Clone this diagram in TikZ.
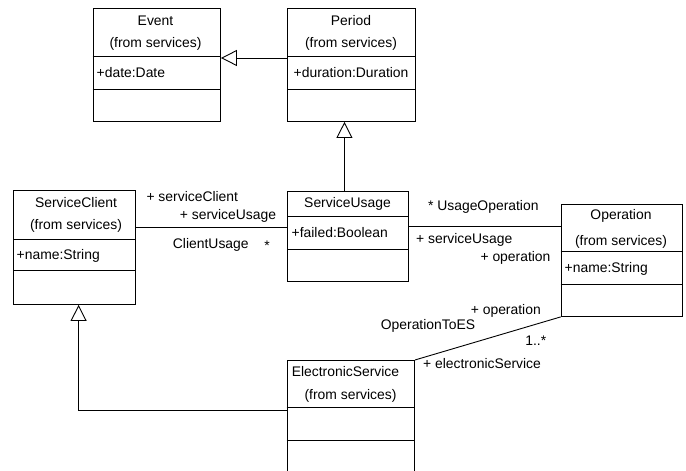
\documentclass[tikz,border=0pt]{standalone}
\usepackage{fontspec}
\setmainfont{Liberation Sans}
\usetikzlibrary{arrows.meta}
\begin{document}
\begin{tikzpicture}[x=1pt,y=-1pt,
  every node/.style={font=\fontsize{13.9}{16}\selectfont},
  cls/.style={draw, line width=0.9pt, anchor=north west, inner sep=0pt},
  lbl/.style={anchor=mid, inner sep=0pt},
  attr/.style={anchor=west, inner sep=0pt},
  ln/.style={line width=0.9pt},
  gen/.style={line width=0.9pt, -{Triangle[open,length=16pt,width=16pt,fill=white]}}]
\useasboundingbox (0,0) rectangle (686,471);
% classes
\node[cls, minimum width=127.3pt, minimum height=113pt] (ev) at (92.7,8) {};
\node[cls, minimum width=127.7pt, minimum height=113pt] (pe) at (287.3,8) {};
\node[cls, minimum width=121.7pt, minimum height=114pt] (sc) at (13.3,190) {};
\node[cls, minimum width=120.4pt, minimum height=90pt] (su) at (287.3,191) {};
\node[cls, minimum width=121pt, minimum height=112pt] (op) at (560.7,204) {};
\node[cls, minimum width=127.3pt, minimum height=130pt] (es) at (286.7,360) {};
% dividers
\draw[ln] ([yshift=-48pt]ev.north west) -- ([yshift=-48pt]ev.north east);
\draw[ln] ([yshift=-81pt]ev.north west) -- ([yshift=-81pt]ev.north east);
\draw[ln] ([yshift=-48pt]pe.north west) -- ([yshift=-48pt]pe.north east);
\draw[ln] ([yshift=-81pt]pe.north west) -- ([yshift=-81pt]pe.north east);
\draw[ln] ([yshift=-49pt]sc.north west) -- ([yshift=-49pt]sc.north east);
\draw[ln] ([yshift=-80.7pt]sc.north west) -- ([yshift=-80.7pt]sc.north east);
\draw[ln] ([yshift=-25.7pt]su.north west) -- ([yshift=-25.7pt]su.north east);
\draw[ln] ([yshift=-58pt]su.north west) -- ([yshift=-58pt]su.north east);
\draw[ln] ([yshift=-47.7pt]op.north west) -- ([yshift=-47.7pt]op.north east);
\draw[ln] ([yshift=-80.3pt]op.north west) -- ([yshift=-80.3pt]op.north east);
\draw[ln] ([yshift=-47.7pt]es.north west) -- ([yshift=-47.7pt]es.north east);
\draw[ln] ([yshift=-80.7pt]es.north west) -- ([yshift=-80.7pt]es.north east);
% class texts
\node[lbl] (evn) at (155.5,23) {Event};
\node[lbl] (evf) at (155.5,45) {(from services)};
\node[attr] (eva) at (96.5,72.5) {+date:Date};
\node[lbl] (pen) at (351,23) {Period};
\node[lbl] (pef) at (351,45) {(from services)};
\node[attr] (pea) at (293.5,72.5) {+duration:Duration};
\node[lbl] (scn) at (76,205) {ServiceClient};
\node[lbl] (scf) at (76,227) {(from services)};
\node[attr] (sca) at (16.5,255.5) {+name:String};
\node[lbl] (sun) at (347.5,205) {ServiceUsage};
\node[attr] (sua) at (291.5,233) {+failed:Boolean};
\node[lbl] (opn) at (621,217) {Operation};
\node[lbl] (opf) at (621,243) {(from services)};
\node[attr] (opa) at (564.5,269) {+name:String};
\node[lbl] (esn) at (345.5,374) {ElectronicService};
\node[lbl] (esf) at (350.5,396.5) {(from services)};
% connectors
\draw[gen] ([yshift=-50pt]pe.north west) -- ([yshift=-50pt]ev.north east);
\draw[gen] ([xshift=-3.5pt]su.north) -- ([xshift=-3.5pt]su.north |- pe.south);
\draw[gen] ([yshift=-50.7pt]es.north west) -| ([xshift=4pt]sc.south);
\draw[ln] ([yshift=-37.3pt]sc.north east) -- ([yshift=-36.3pt]su.north west);
\draw[ln] ([yshift=-35pt]su.north east) -- ([yshift=-22pt]op.north west);
\draw[ln] (op.south west) -- (es.north east);
% association labels
\node[lbl] (l1) at (192.3,199) {+ serviceClient};
\node[lbl] (l2) at (228,217.3) {+ serviceUsage};
\node[lbl] (l3) at (210.8,246) {ClientUsage};
\node[lbl] (l4) at (267,248) {*};
\node[lbl] (l5) at (483.3,208) {* UsageOperation};
\node[lbl] (l6) at (464.2,241) {+ serviceUsage};
\node[lbl] (l7) at (515.5,259) {+ operation};
\node[lbl] (l8) at (505.8,311.7) {+ operation};
\node[lbl] (l9) at (428,326.7) {OperationToES};
\node[lbl] (l10) at (535.8,342.7) {1..*};
\node[lbl] (l11) at (482,365.7) {+ electronicService};
\end{tikzpicture}
\end{document}
